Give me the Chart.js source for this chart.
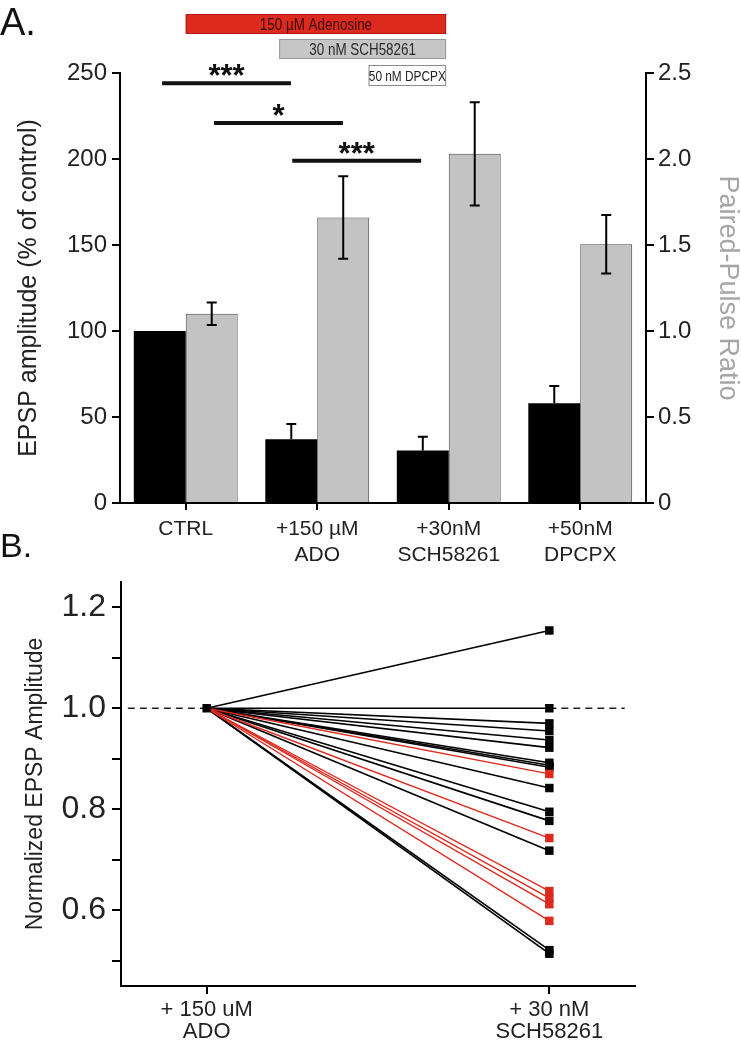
<!DOCTYPE html>
<html>
<head>
<meta charset="utf-8">
<script src="https://cdn.jsdelivr.net/npm/chart.js@4.4.1/dist/chart.umd.min.js"></script>
<style>
  html, body { margin: 0; padding: 0; background: #fff; }
  #wrap { position: relative; width: 741px; height: 1048px; overflow: hidden; }
  canvas { position: absolute; left: 0; }
  #chartA { top: 0; }
  #chartB { top: 528px; }
</style>
</head>
<body>
<div id="wrap">
  <canvas id="chartA" width="741" height="570"></canvas>
  <canvas id="chartB" width="741" height="520"></canvas>
</div>
<script>
// ---- panel A data ----
const categories = [["CTRL"], ["+150 µM", "ADO"], ["+30nM", "SCH58261"], ["+50nM", "DPCPX"]];
const epspMean = [100, 37, 30.5, 58];
const epspErr = [0, 9, 8, 10];
const pprMean = [1.10, 1.66, 2.03, 1.505];
const pprErr = [0.065, 0.24, 0.30, 0.17];

// significance bars: from / to category index, height on left axis
const sigFrom = [-0.18, 0.215, 0.81];
const sigTo = [0.80, 1.195, 1.79];
const sigLevel = [244, 221, 199];
const sigLabel = ["***", "*", "***"];

// drug application bars above the plot
const drugLabels = ["150 µM Adenosine", "30 nM SCH58261", "50 nM DPCPX"];
const drugStart = [0, 0.71, 1.39];
const drugEnd = [1.98, 1.98, 1.98];

// ---- panel B data ----
const stageLabels = [["+ 150 uM", "ADO"], ["+ 30 nM", "SCH58261"]];
const blackEnds = [1.154, 1.0, 0.970, 0.955, 0.937, 0.922, 0.892, 0.887, 0.883, 0.842, 0.795, 0.777, 0.718, 0.521, 0.514];
const redEnds = [0.870, 0.743, 0.638, 0.624, 0.612, 0.579];
const startValue = 1.0;
const yTicksB = [0.5, 0.6, 0.7, 0.8, 0.9, 1.0, 1.1, 1.2];
const yLabelledB = [0.6, 0.8, 1.0, 1.2];

Chart.defaults.font.family = "'Liberation Sans', Arial, sans-serif";
Chart.defaults.color = "#222";
Chart.defaults.animation = false;

const RED = "#dc2a1f";

// error bars, significance lines, drug bars and panel letter for A
const panelA = {
  id: "panelA",
  afterDatasetsDraw(chart) {
    const { ctx } = chart;
    const y = chart.scales.y, y1 = chart.scales.y1;
    ctx.save();
    ctx.strokeStyle = "#000";
    ctx.lineWidth = 2;
    const cap = 5;
    chart.getDatasetMeta(0).data.forEach((bar, i) => {
      if (!epspErr[i]) return;
      const top = y.getPixelForValue(epspMean[i] + epspErr[i]);
      const base = y.getPixelForValue(epspMean[i]);
      ctx.beginPath();
      ctx.moveTo(bar.x, base); ctx.lineTo(bar.x, top);
      ctx.moveTo(bar.x - cap, top); ctx.lineTo(bar.x + cap, top);
      ctx.stroke();
    });
    chart.getDatasetMeta(1).data.forEach((bar, i) => {
      const top = y1.getPixelForValue(pprMean[i] + pprErr[i]);
      const bot = y1.getPixelForValue(pprMean[i] - pprErr[i]);
      ctx.beginPath();
      ctx.moveTo(bar.x, bot); ctx.lineTo(bar.x, top);
      ctx.moveTo(bar.x - cap, top); ctx.lineTo(bar.x + cap, top);
      ctx.moveTo(bar.x - cap, bot); ctx.lineTo(bar.x + cap, bot);
      ctx.stroke();
    });
    ctx.restore();
  },
  afterDraw(chart) {
    const { ctx, chartArea } = chart;
    const x = chart.scales.x, y = chart.scales.y;
    ctx.save();
    // significance
    ctx.strokeStyle = "#111";
    ctx.lineWidth = 4;
    ctx.fillStyle = "#111";
    ctx.font = "bold 31px 'Liberation Sans', Arial, sans-serif";
    ctx.textAlign = "center";
    ctx.textBaseline = "alphabetic";
    sigLevel.forEach((lv, i) => {
      const x0 = x.getPixelForValue(sigFrom[i]);
      const x1 = x.getPixelForValue(sigTo[i]);
      const py = y.getPixelForValue(lv);
      ctx.beginPath();
      ctx.moveTo(x0, py); ctx.lineTo(x1, py);
      ctx.stroke();
      ctx.fillText(sigLabel[i], (x0 + x1) / 2, py + 3);
    });

    // drug bars (labels in a narrow face, so squeeze horizontally)
    const t = chartArea.top;
    const rows = [
      { top: t - 59, h: 20, fill: RED, stroke: "#b01810", font: "17px", color: "#3a0c08" },
      { top: t - 34, h: 20, fill: "#c6c6c6", stroke: "#9a9a9a", font: "17px", color: "#2a2a2a" },
      { top: t - 8, h: 21, fill: "#ffffff", stroke: "#8a8a8a", font: "15px", color: "#222" }
    ];
    const squeeze = 0.79;
    rows.forEach((r, i) => {
      const x0 = x.getPixelForValue(drugStart[i]);
      const x1 = x.getPixelForValue(drugEnd[i]);
      ctx.fillStyle = r.fill;
      ctx.fillRect(x0, r.top, x1 - x0, r.h);
      ctx.strokeStyle = r.stroke;
      ctx.lineWidth = 1;
      ctx.strokeRect(x0 + 0.5, r.top + 0.5, x1 - x0 - 1, r.h - 1);
      ctx.save();
      ctx.translate((x0 + x1) / 2, r.top + r.h / 2 + 1);
      ctx.scale(squeeze, 1);
      ctx.fillStyle = r.color;
      ctx.font = r.font + " 'Liberation Sans', Arial, sans-serif";
      ctx.textBaseline = "middle";
      ctx.fillText(drugLabels[i], 0, 0);
      ctx.restore();
    });

    ctx.fillStyle = "#111";
    ctx.textAlign = "left";
    ctx.textBaseline = "alphabetic";
    ctx.font = "38px 'Liberation Sans', Arial, sans-serif";
    ctx.fillText("A.", 0, 35);
    ctx.restore();
  }
};

const panelB = {
  id: "panelB",
  afterDraw(chart) {
    const { ctx } = chart;
    ctx.save();
    ctx.fillStyle = "#111";
    ctx.font = "34px 'Liberation Sans', Arial, sans-serif";
    ctx.textBaseline = "alphabetic";
    ctx.fillText("B.", 0, 29);
    ctx.restore();
  }
};

const axisGrid = { drawOnChartArea: false, drawTicks: true, tickLength: 8, color: "#000", lineWidth: 2 };
const axisBorder = { display: true, color: "#000", width: 2 };

new Chart(document.getElementById("chartA"), {
  type: "bar",
  data: {
    labels: categories,
    datasets: [
      {
        data: epspMean,
        yAxisID: "y",
        backgroundColor: "#000",
        borderWidth: 0,
        barPercentage: 1.0,
        categoryPercentage: 0.79
      },
      {
        data: pprMean,
        yAxisID: "y1",
        backgroundColor: "#c3c3c3",
        borderColor: "#4a4a4a",
        borderWidth: 1,
        barPercentage: 1.0,
        categoryPercentage: 0.79
      }
    ]
  },
  options: {
    responsive: false,
    layout: { padding: { top: 73, left: 0, right: 0, bottom: 0 } },
    plugins: { legend: { display: false }, tooltip: { enabled: false } },
    scales: {
      x: {
        grid: { ...axisGrid, offset: false, tickLength: 7 },
        border: axisBorder,
        ticks: { font: { size: 21, lineHeight: 1.2 }, padding: 7, maxRotation: 0, color: "#222" },
        afterFit(s) { s.height = 67; }
      },
      y: {
        position: "left",
        min: 0, max: 250,
        ticks: { stepSize: 50, font: { size: 24 }, padding: 5, color: "#222" },
        grid: axisGrid,
        border: axisBorder,
        title: {
          display: true,
          text: "EPSP amplitude (% of control)",
          font: { size: 25, lineHeight: 1.0 },
          color: "#222",
          padding: { top: 17, bottom: 0 }
        },
        afterFit(s) { s.width = 120; }
      },
      y1: {
        position: "right",
        min: 0, max: 2.5,
        ticks: {
          stepSize: 0.5, font: { size: 24 }, padding: 4, color: "#222",
          callback: v => (v === 0 ? "0" : v.toFixed(1))
        },
        grid: axisGrid,
        border: axisBorder,
        title: {
          display: true,
          text: "Paired-Pulse Ratio",
          font: { size: 27, lineHeight: 1.0 },
          color: "#a6a6a6",
          padding: { top: 0, bottom: 0 }
        },
        afterFit(s) { s.width = 95; }
      }
    }
  },
  plugins: [panelA]
});

// ---- panel B ----
const lineSet = (end, color, width, order) => ({
  data: [{ x: 0, y: startValue }, { x: 1, y: end }],
  showLine: true,
  borderColor: color,
  borderWidth: width,
  pointRadius: [0, 6],
  pointStyle: "rect",
  pointBackgroundColor: color,
  pointBorderColor: color,
  pointBorderWidth: 0,
  order
});

const bDatasets = [
  ...redEnds.map(v => lineSet(v, RED, 1.4, 1)),
  ...blackEnds.map(v => lineSet(v, "#000", 1.6, 2)),
  {
    data: [{ x: 0, y: startValue }],
    pointRadius: 6, pointStyle: "rect",
    pointBackgroundColor: "#000", pointBorderWidth: 0,
    order: 0
  },
  {
    data: [{ x: -0.23, y: startValue }, { x: 0, y: startValue }, { x: 0.5, y: null }, { x: 1, y: startValue }, { x: 1.22, y: startValue }],
    showLine: true, spanGaps: false,
    borderColor: "#222", borderWidth: 1.5, borderDash: [7, 5],
    pointRadius: 0,
    order: 5
  }
];

new Chart(document.getElementById("chartB"), {
  type: "scatter",
  data: { datasets: bDatasets },
  options: {
    responsive: false,
    layout: { padding: { top: 54, left: 0, right: 106, bottom: 0 } },
    plugins: { legend: { display: false }, tooltip: { enabled: false } },
    scales: {
      x: {
        type: "linear",
        min: -0.25, max: 1.25,
        afterBuildTicks(s) { s.ticks = [{ value: 0 }, { value: 1 }]; },
        ticks: {
          font: { size: 22, lineHeight: 1.0 }, padding: 5, color: "#222", maxRotation: 0,
          callback: v => stageLabels[v]
        },
        grid: axisGrid,
        border: axisBorder,
        afterFit(s) { s.height = 62; }
      },
      y: {
        min: 0.45, max: 1.25,
        afterBuildTicks(s) { s.ticks = yTicksB.map(v => ({ value: v })); },
        ticks: {
          font: { size: 32 }, padding: 6, color: "#222",
          callback: v => (yLabelledB.some(t => Math.abs(t - v) < 1e-6) ? v.toFixed(1) : "")
        },
        grid: { ...axisGrid, tickLength: 9 },
        border: axisBorder,
        title: {
          display: true,
          text: "Normalized EPSP Amplitude",
          font: { size: 23, lineHeight: 1.0 },
          color: "#222",
          padding: { top: 24, bottom: 0 }
        },
        afterFit(s) { s.width = 121; }
      }
    }
  },
  plugins: [panelB]
});
</script>
</body>
</html>
